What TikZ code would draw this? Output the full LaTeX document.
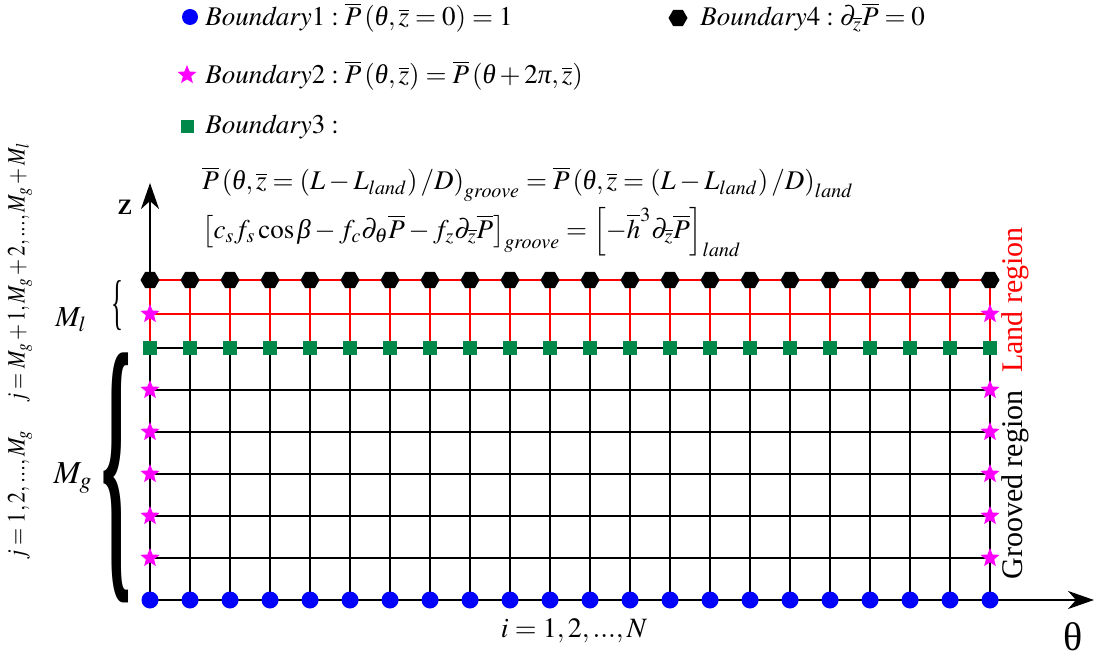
\documentclass[tikz,border=0pt]{standalone}
\usepackage{mathptmx}
\usepackage{fontspec}
\setmainfont{Liberation Serif}
\usepackage{graphicx}
\usepackage{xcolor}
\definecolor{dotblue}{HTML}{0000FF}
\definecolor{starmag}{HTML}{FF00FF}
\definecolor{sqgreen}{HTML}{00874A}
\definecolor{landred}{HTML}{FF0000}
\usetikzlibrary{arrows.meta,shapes.geometric,shapes.misc}
\newcommand{\itth}{\mbox{\itshape θ}}
\newcommand{\itbt}{\mbox{\itshape β}}
\newcommand{\itpi}{\mbox{\itshape π}}
\tikzset{
  >={Stealth[length=13pt,width=9pt,inset=4pt]},
  bnda/.style={circle,fill=dotblue,inner sep=0pt,minimum size=8.5pt},
  bndb/.style={star,star points=5,star point ratio=2.3,fill=starmag,inner sep=0pt,minimum size=10pt},
  bndc/.style={rectangle,fill=sqgreen,inner sep=0pt,minimum size=7pt},
  bndd/.style={regular polygon,regular polygon sides=6,fill=black,inner sep=0pt,minimum size=9.5pt},
  gline/.style={draw=black,line width=1.4pt},
  lline/.style={draw=landred,line width=1.2pt},
  axis/.style={->,draw=black,line width=1.4pt},
  eq/.style={anchor=base west,inner sep=0pt,font=\fontsize{13.5}{16}\selectfont},
  lab/.style={inner sep=0pt,font=\fontsize{12.5}{15}\selectfont},
  reg/.style={rotate=90,inner sep=0pt,font=\fontsize{15}{18}\selectfont},
}
\begin{document}
\begin{tikzpicture}[x=0.5pt,y=-0.5pt]
\useasboundingbox (0,0) rectangle (1096,663);
% grid points: columns 0..21, rows 0..6 grooved, 7..8 land
\foreach \j/\y in {0/600,1/558,2/516,3/474,4/432,5/390,6/348,7/314,8/280}
  \foreach \i in {0,...,21} \coordinate (g-\i-\j) at (150+40*\i,\y);
\coordinate (zend) at (150,183);
\coordinate (tend) at (1094,600);
% axes
\draw[axis] (g-0-0) -- (zend);
\draw[axis] (g-0-0) -- (tend);
% land region
\foreach \j in {7,8} \draw[lline] (g-0-\j) -- (g-21-\j);
\foreach \i in {0,...,21} \draw[lline] (g-\i-6) -- (g-\i-8);
% grooved region
\foreach \j in {1,...,6} \draw[gline] (g-0-\j) -- (g-21-\j);
\foreach \i in {1,...,21} \draw[gline] (g-\i-0) -- (g-\i-6);
% boundary nodes
\foreach \i in {0,...,21} {
  \node[bnda] (p1-\i) at (g-\i-0) {};
  \node[bndc] (p3-\i) at (g-\i-6) {};
  \node[bndd] (p4-\i) at (g-\i-8) {};
}
\foreach \j in {1,...,5,7} {
  \node[bndb] (p2l-\j) at (g-0-\j) {};
  \node[bndb] (p2r-\j) at (g-21-\j) {};
}
% legend
\node[bnda,minimum size=8pt] (k1) at (190,17) {};
\node[bndb] (k2) at (187,75) {};
\node[bndc,minimum size=6.5pt] (k3) at (187,127) {};
\node[bndd] (k4) at (678,18) {};
\node[eq] (t1) at (205,26) {$\mathit{Boundary}1:\overline{P}\left(\itth,\overline{z}=0\right)=1$};
\node[eq] (t2) at (205,84) {$\mathit{Boundary}2:\overline{P}\left(\itth,\overline{z}\right)=\overline{P}\left(\itth+2\itpi,\overline{z}\right)$};
\node[eq] (t3) at (205,134) {$\mathit{Boundary}3:$};
\node[eq] (t4) at (700,26) {$\mathit{Boundary}4:\partial_{\overline{z}}\overline{P}=0$};
\node[eq] (t3a) at (202,190) {$\overline{P}\left(\itth,\overline{z}=\left(L-L_{land}\right)/D\right)_{groove}=\overline{P}\left(\itth,\overline{z}=\left(L-L_{land}\right)/D\right)_{land}$};
\node[eq] (t3b) at (202,238) {$\left[c_sf_s\cos\itbt-f_c\partial_{\theta}\overline{P}-f_z\partial_{\overline{z}}\overline{P}\right]_{groove}=\left[-\overline{h}^3\partial_{\overline{z}}\overline{P}\right]_{land}$};
% axis labels
\node[inner sep=0pt,font=\fontsize{11}{13}\selectfont\bfseries] (zlab) at (125,207) {Z};
\node[inner sep=0pt,font=\fontsize{20}{24}\selectfont] (thlab) at (1073,637) {θ};
\node[inner sep=0pt,anchor=base,font=\fontsize{14}{16}\selectfont] (ilab) at (574,637) {$i=1,2,...,N$};
% left side
\node[lab,rotate=90] (jland) at (20,273) {\resizebox{130pt}{\height}{$j=M_g+1,M_g+2,...,M_g+M_l$}};
\node[lab,rotate=90] (jgroove) at (20,495) {\resizebox{65pt}{\height}{$j=1,2,...,M_g$}};
\node[inner sep=0pt,font=\fontsize{14.5}{17}\selectfont] (ml) at (71,320) {$M_l$};
\node[inner sep=0pt,font=\fontsize{16}{19}\selectfont] (mg) at (73,478) {$M_g$};
\node[inner sep=0pt] (brl) at (117,306) {\resizebox*{6pt}{25pt}{\{}};
\node[inner sep=0pt] (brg) at (116,478) {\resizebox*{15pt}{125pt}{\bfseries\{}};
% right side
\node[reg,text=landred] (landlab) at (1015,300) {Land region};
\node[reg] (groovelab) at (1015,485) {Grooved region};
\end{tikzpicture}
\end{document}
